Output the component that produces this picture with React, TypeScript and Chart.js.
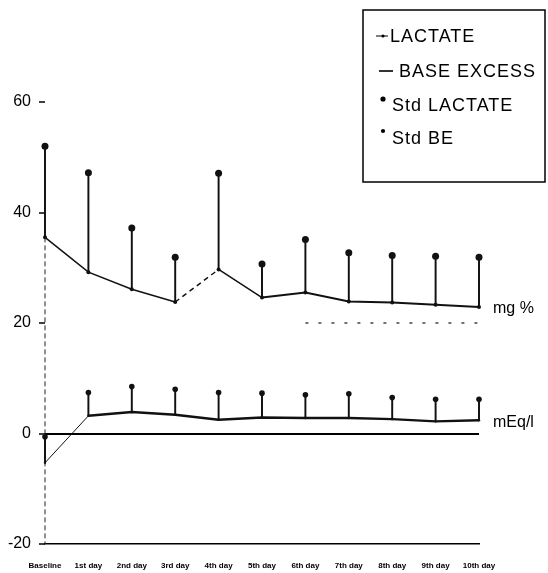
import React, { useEffect, useRef } from "react";
import { Chart, registerables } from "chart.js";

Chart.register(...registerables);

const days = ["Baseline", "1st day", "2nd day", "3rd day", "4th day", "5th day", "6th day", "7th day", "8th day", "9th day", "10th day"];
const lactate = [35.5, 29.2, 26.1, 23.8, 29.7, 24.6, 25.5, 23.9, 23.7, 23.3, 22.9];
const stdLactate = [52.0, 47.2, 37.2, 31.9, 47.1, 30.7, 35.1, 32.7, 32.2, 32.1, 31.9];
const baseExcess = [-5.3, 3.2, 3.9, 3.4, 2.5, 2.9, 2.8, 2.8, 2.6, 2.2, 2.4];
const stdBE = [-0.6, 7.4, 8.5, 8.0, 7.4, 7.3, 7.0, 7.2, 6.5, 6.2, 6.2];
const refLine20 = [null, null, null, null, null, null, 20, 20, 20, 20, 20];
const yMin = -20;
const yMax = 60;
const yStep = 20;
const legendLabels = ["LACTATE", "BASE EXCESS", "Std LACTATE", "Std BE"];
const unitLabels = ["mg %", "mEq/l"];

const FONT = '"Liberation Sans", Arial, Helvetica, sans-serif';

const axisPlugin = {
  id: "dashedYAxis",
  beforeDatasetsDraw(chart: any) {
    const ctx = chart.ctx;
    const { left, bottom } = chart.chartArea;
    const yTop = chart.scales.y.getPixelForValue(lactate[0]);
    ctx.save();
    ctx.strokeStyle = "#222";
    ctx.lineWidth = 1;
    ctx.setLineDash([5, 3]);
    ctx.beginPath();
    ctx.moveTo(left, yTop);
    ctx.lineTo(left, bottom);
    ctx.stroke();
    ctx.restore();
  },
};

const legendPlugin = {
  id: "boxLegend",
  afterDraw(chart: any) {
    const ctx = chart.ctx;
    ctx.save();
    ctx.fillStyle = "#fff";
    ctx.fillRect(363, 10, 182, 172);
    ctx.strokeStyle = "#000";
    ctx.lineWidth = 1.5;
    ctx.strokeRect(363, 10, 182, 172);
    ctx.fillStyle = "#000";
    ctx.font = `18px ${FONT}`;
    try { (ctx as any).letterSpacing = "1px"; } catch (e) {}
    ctx.textBaseline = "middle";
    ctx.textAlign = "left";
    const ys = [37, 72, 106, 139];
    const xs = [390, 399, 392, 392];
    legendLabels.forEach((t, i) => ctx.fillText(t, xs[i], ys[i]));
    ctx.strokeStyle = "#000";
    ctx.lineWidth = 1;
    ctx.beginPath();
    ctx.moveTo(376, ys[0] - 1);
    ctx.lineTo(388, ys[0] - 1);
    ctx.stroke();
    ctx.beginPath();
    ctx.arc(383, ys[0] - 1, 1.6, 0, Math.PI * 2);
    ctx.fill();
    ctx.lineWidth = 1.6;
    ctx.beginPath();
    ctx.moveTo(379, ys[1] - 1);
    ctx.lineTo(393, ys[1] - 1);
    ctx.stroke();
    ctx.beginPath();
    ctx.arc(383, ys[2] - 7, 2.6, 0, Math.PI * 2);
    ctx.fill();
    ctx.beginPath();
    ctx.arc(383, ys[3] - 8, 2.1, 0, Math.PI * 2);
    ctx.fill();
    ctx.restore();
  },
};

const unitPlugin = {
  id: "unitLabels",
  afterDatasetsDraw(chart: any) {
    const ctx = chart.ctx;
    ctx.save();
    ctx.fillStyle = "#000";
    ctx.font = `16px ${FONT}`;
    ctx.textBaseline = "middle";
    ctx.textAlign = "left";
    [2, 3].forEach((dsIndex, k) => {
      const meta = chart.getDatasetMeta(dsIndex);
      const pt = meta.data[meta.data.length - 1];
      if (pt) ctx.fillText(unitLabels[k], pt.x + 14, pt.y + 2);
    });
    ctx.restore();
  },
};

export default function App() {
  const ref = useRef<HTMLCanvasElement | null>(null);
  useEffect(() => {
    if (!ref.current) return;
    const chart = new Chart(ref.current, {
      type: "line",
      data: {
        labels: days,
        datasets: [
          {
            type: "bar",
            label: "Std LACTATE bar",
            data: lactate.map((v, i) => [v, stdLactate[i]]) as any,
            backgroundColor: "#111",
            borderWidth: 0,
            barThickness: 1.3,
            grouped: false,
            clip: false as any,
            order: 5,
          } as any,
          {
            type: "bar",
            label: "Std BE bar",
            data: baseExcess.map((v, i) => [v, stdBE[i]]) as any,
            backgroundColor: "#111",
            borderWidth: 0,
            barThickness: 1.3,
            grouped: false,
            clip: false as any,
            order: 5,
          } as any,
          {
            label: legendLabels[0],
            data: lactate,
            borderColor: "#111",
            backgroundColor: "#111",
            borderWidth: 1.5,
            pointRadius: 2,
            pointBorderWidth: 0,
            tension: 0,
            clip: false as any,
            order: 2,
            segment: {
              borderDash: (c: any) => (c.p0DataIndex === 3 ? [5, 4] : undefined),
              borderWidth: (c: any) => (c.p0DataIndex >= 5 ? 2 : 1.5),
            },
          } as any,
          {
            label: legendLabels[1],
            data: baseExcess,
            borderColor: "#111",
            backgroundColor: "#111",
            borderWidth: 2.4,
            pointRadius: 1.2,
            pointBorderWidth: 0,
            tension: 0,
            clip: false as any,
            order: 2,
            segment: {
              borderWidth: (c: any) => (c.p0DataIndex === 0 ? 1 : 2.4),
            },
          } as any,
          {
            label: legendLabels[2],
            data: stdLactate,
            showLine: false,
            pointRadius: 3.5,
            pointBackgroundColor: "#111",
            pointBorderWidth: 0,
            clip: false as any,
            order: 1,
          } as any,
          {
            label: legendLabels[3],
            data: stdBE,
            showLine: false,
            pointRadius: 2.8,
            pointBackgroundColor: "#111",
            pointBorderWidth: 0,
            clip: false as any,
            order: 1,
          } as any,
          {
            label: "ref",
            data: refLine20 as any,
            borderColor: "#444",
            borderWidth: 1.5,
            borderDash: [3, 10],
            pointRadius: 0,
            spanGaps: false,
            order: 6,
          } as any,
        ],
      },
      options: {
        animation: false,
        responsive: false,
        devicePixelRatio: 1,
        layout: { padding: { left: 0, right: 69, top: 102, bottom: 0 } },
        plugins: { legend: { display: false }, tooltip: { enabled: false } },
        scales: {
          x: {
            type: "category",
            offset: false,
            grid: { display: false, drawTicks: false },
            border: { display: true, color: "#000", width: 1.5 },
            ticks: {
              font: { size: 8, weight: "bold", family: FONT },
              color: "#000",
              padding: 17,
              maxRotation: 0,
              autoSkip: false,
            },
            afterFit: (s: any) => {
              s.height = 29;
            },
          },
          y: {
            min: yMin,
            max: yMax,
            ticks: {
              stepSize: yStep,
              font: { size: 16, family: FONT },
              color: "#000",
              padding: 8,
            },
            grid: {
              color: (c: any) => (c.tick && c.tick.value === 0 ? "#000" : "rgba(0,0,0,0)"),
              lineWidth: (c: any) => (c.tick && c.tick.value === 0 ? 2 : 0),
              tickColor: "#000",
              tickWidth: 1.5,
              tickLength: 6,
            },
            border: { display: false },
            afterFit: (s: any) => {
              s.width = 45;
            },
          },
        },
      } as any,
      plugins: [axisPlugin, legendPlugin, unitPlugin],
    });
    return () => chart.destroy();
  }, []);
  return (
    <div style={{ position: "fixed", left: 0, top: 0, width: 548, height: 573, background: "#fff" }}>
      <canvas ref={ref} width={548} height={573} style={{ width: 548, height: 573 }} />
    </div>
  );
}
